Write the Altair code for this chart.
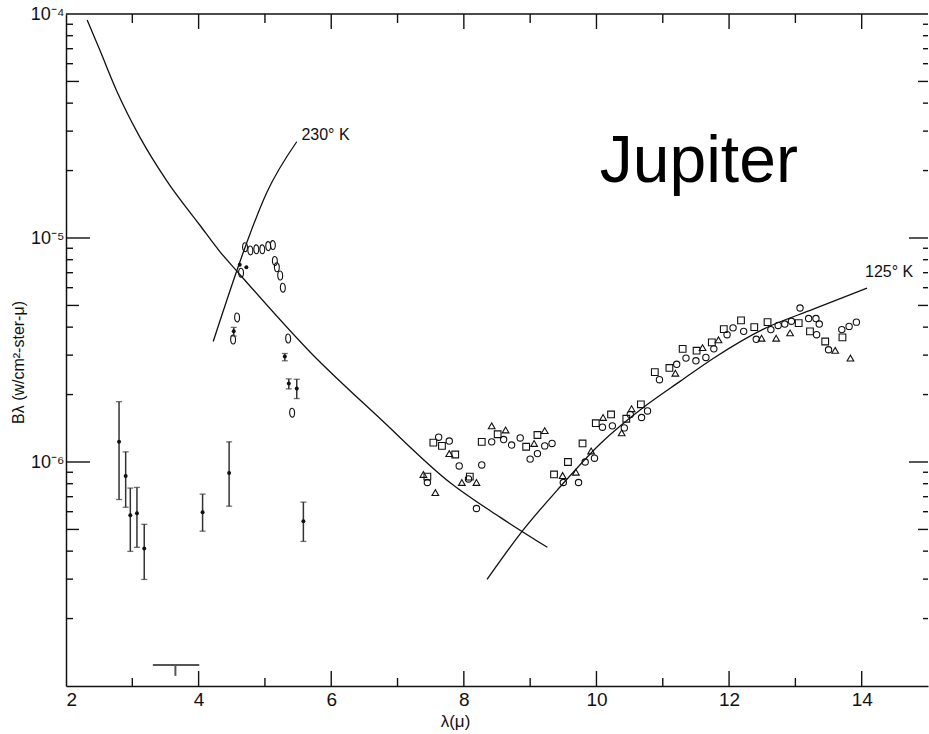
import altair as alt
import pandas as pd

# ---------------- curves ----------------
main_x = [2.32, 2.51, 2.77, 3.12, 3.52, 4.02, 4.32, 4.58, 5.68, 6.74, 7.79, 8.55, 9.26]
main_y = [9.4e-5, 6.9e-5, 4.5e-5, 2.8e-5, 1.8e-5, 1.14e-5, 8.7e-6, 7.1e-6, 3.1e-6, 1.56e-6, 8.1e-7, 5.66e-7, 4.16e-7]
k230_x = [4.22, 4.58, 4.73, 5.03, 5.48]
k230_y = [3.45e-6, 7.2e-6, 9.6e-6, 1.6e-5, 2.69e-5]
k125_x = [8.35, 8.89, 9.45, 10.05, 10.76, 11.26, 11.76, 12.51, 13.27, 14.08]
k125_y = [2.99e-7, 4.95e-7, 7.73e-7, 1.2e-6, 1.80e-6, 2.29e-6, 2.90e-6, 3.91e-6, 4.81e-6, 5.97e-6]

# ---------------- open markers ----------------
circ_x = [7.62, 7.78, 7.93, 8.27, 8.42, 8.60, 8.85, 8.72, 9.00, 9.11, 9.22, 9.33, 8.19, 7.45, 8.07,
          9.50, 9.73, 9.83, 9.97, 10.09, 10.24, 10.42, 10.68, 10.77, 10.51, 10.95, 11.21, 11.35,
          11.50, 11.65, 11.77, 11.97, 12.06, 12.22, 12.41, 12.63, 12.74, 12.84, 12.94, 13.07,
          13.20, 13.31, 13.36, 13.32, 13.50, 13.70, 13.81, 13.92]
circ_y = [1.29e-6, 1.24e-6, 9.6e-7, 9.7e-7, 1.23e-6, 1.26e-6, 1.28e-6, 1.19e-6, 1.03e-6, 1.09e-6,
          1.18e-6, 1.21e-6, 6.2e-7, 8.1e-7, 8.4e-7, 8.1e-7, 8.1e-7, 1.0e-6, 1.04e-6, 1.43e-6,
          1.45e-6, 1.42e-6, 1.58e-6, 1.69e-6, 1.63e-6, 2.33e-6, 2.73e-6, 2.91e-6, 2.83e-6,
          2.93e-6, 3.20e-6, 3.70e-6, 3.97e-6, 3.83e-6, 3.53e-6, 3.90e-6, 4.07e-6, 4.13e-6,
          4.25e-6, 4.87e-6, 4.37e-6, 4.37e-6, 4.13e-6, 3.70e-6, 3.17e-6, 3.90e-6, 4.03e-6, 4.21e-6]

sq_x = [7.54, 7.67, 7.87, 8.27, 8.51, 8.94, 9.11, 7.45, 8.09, 9.36, 9.57, 9.79, 9.99, 10.22,
        10.45, 10.67, 10.88, 11.10, 11.30, 11.51, 11.74, 11.92, 12.18, 12.38, 12.58, 13.05,
        13.22, 13.45, 13.71]
sq_y = [1.22e-6, 1.18e-6, 1.08e-6, 1.23e-6, 1.33e-6, 1.17e-6, 1.32e-6, 8.6e-7, 8.6e-7, 8.8e-7,
        1.0e-6, 1.21e-6, 1.49e-6, 1.63e-6, 1.56e-6, 1.81e-6, 2.52e-6, 2.63e-6, 3.20e-6, 3.14e-6,
        3.42e-6, 3.92e-6, 4.29e-6, 4.0e-6, 4.21e-6, 4.17e-6, 3.83e-6, 3.45e-6, 3.60e-6]

tri_x = [8.42, 8.63, 9.06, 9.22, 7.39, 7.57, 7.97, 8.19, 7.78, 9.49, 10.10, 9.92, 9.69, 10.53,
         10.38, 11.19, 11.60, 11.84, 12.49, 12.71, 12.92, 13.83, 13.60]
tri_y = [1.45e-6, 1.39e-6, 1.21e-6, 1.38e-6, 8.8e-7, 7.3e-7, 8.1e-7, 8.1e-7, 1.09e-6, 8.7e-7,
         1.58e-6, 1.12e-6, 9.0e-7, 1.73e-6, 1.35e-6, 2.49e-6, 3.24e-6, 3.51e-6, 3.57e-6,
         3.57e-6, 3.77e-6, 2.91e-6, 3.15e-6]

oval_x = [4.70, 4.78, 4.87, 4.96, 5.05, 5.12, 5.15, 5.18, 5.23, 5.27, 5.35, 5.41, 4.58, 4.52, 4.64]
oval_y = [9.1e-6, 8.8e-6, 8.9e-6, 8.9e-6, 9.2e-6, 9.3e-6, 7.9e-6, 7.4e-6, 6.8e-6, 6.0e-6,
          3.56e-6, 1.66e-6, 4.42e-6, 3.52e-6, 7.0e-6]

# ---------------- filled points with error bars ----------------
err_x = [2.80, 2.90, 2.97, 3.07, 3.18, 4.06, 4.46, 5.58, 4.53, 5.30, 5.36, 5.48]
err_y = [1.23e-6, 8.65e-7, 5.78e-7, 5.9e-7, 4.11e-7, 5.97e-7, 8.93e-7, 5.44e-7, 3.83e-6, 2.96e-6, 2.24e-6, 2.13e-6]
err_hi = [1.86e-6, 1.11e-6, 7.65e-7, 7.7e-7, 5.27e-7, 7.19e-7, 1.23e-6, 6.62e-7, 3.99e-6, 3.05e-6, 2.35e-6, 2.34e-6]
err_lo = [6.8e-7, 6.28e-7, 3.99e-7, 4.16e-7, 2.99e-7, 4.91e-7, 6.35e-7, 4.42e-7, 3.65e-6, 2.83e-6, 2.12e-6, 1.92e-6]
dot_x = [4.62, 4.72]
dot_y = [7.6e-6, 7.4e-6]

# resolution bar
res_x1, res_x2, res_xc = 3.31, 4.01, 3.65
res_y, res_y2 = 1.24e-7, 1.11e-7

# ---------------- ticks / labels ----------------
x_labels = [2, 4, 6, 8, 10, 12, 14]
x_major = [4, 6, 8, 10, 12, 14]
x_minor = [3, 5, 7, 9, 11, 13]
y_labels = [1e-4, 1e-5, 1e-6]
y_decade = [1e-5, 1e-6]
y_five = [5e-5, 5e-6, 5e-7]
y_minor = [m * d for d in (1e-5, 1e-6, 1e-7) for m in (2, 3, 4, 6, 7, 8, 9)]

W, H = 862, 672
FONT = "Liberation Sans"
INK = "#111111"

xs = alt.Scale(domain=[2, 15], nice=False, zero=False)
ys = alt.Scale(type="log", domain=[1e-7, 1e-4], nice=False)

XAXIS = alt.Axis(values=x_labels, ticks=False, grid=False, format="d",
                 title="λ(μ)", titleX=389, titleY=27, titleBaseline="top")
YAXIS = alt.Axis(values=y_labels, ticks=False, grid=False,
                 labelExpr="datum.value > 5e-5 ? '10⁻⁴' : datum.value > 5e-6 ? '10⁻⁵' : '10⁻⁶'",
                 title="Bλ (w/cm²-ster-μ)", titleAngle=270,
                 titleX=-48, titleY=348, titleAlign="center", titleBaseline="middle")


def X(f):
    return alt.X(f, scale=xs, axis=XAXIS)


def Y(f):
    return alt.Y(f, scale=ys, axis=YAXIS)


def curve(xv, yv):
    df = pd.DataFrame({"x": xv, "y": yv})
    return alt.Chart(df).mark_line(color=INK, strokeWidth=1.3, interpolate="monotone").encode(
        x=X("x:Q"), y=Y("y:Q"), order=alt.Order("x:Q"))


def pts(xv, yv, shape, size=45):
    df = pd.DataFrame({"x": xv, "y": yv})
    return alt.Chart(df).mark_point(shape=shape, filled=False, color=INK, size=size,
                                    strokeWidth=1.1, opacity=1).encode(x=X("x:Q"), y=Y("y:Q"))


layers = [
    curve(main_x, main_y),
    curve(k230_x, k230_y),
    curve(k125_x, k125_y),
    pts(circ_x, circ_y, "circle", 40),
    pts(sq_x, sq_y, "square", 45),
    pts(tri_x, tri_y, "triangle-up", 45),
    pts(oval_x, oval_y, "M -0.55,0 A 0.55,1 0 1,0 0.55,0 A 0.55,1 0 1,0 -0.55,0 Z", 80),
]

err_df = pd.DataFrame({"x": err_x, "y": err_y, "hi": err_hi, "lo": err_lo})
layers.append(alt.Chart(err_df).mark_rule(color="#333333", strokeWidth=1.5).encode(
    x=X("x:Q"), y=Y("lo:Q"), y2="hi:Q"))
for fld in ("lo", "hi"):
    layers.append(alt.Chart(err_df).mark_tick(orient="horizontal", size=6, thickness=1.3,
                                              color="#333333").encode(x=X("x:Q"), y=Y(f"{fld}:Q")))
layers.append(alt.Chart(err_df).mark_circle(color=INK, size=16, opacity=1).encode(
    x=X("x:Q"), y=Y("y:Q")))
layers.append(alt.Chart(pd.DataFrame({"x": dot_x, "y": dot_y})).mark_circle(
    color=INK, size=16, opacity=1).encode(x=X("x:Q"), y=Y("y:Q")))

# resolution bar
res_df = pd.DataFrame({"x": [res_x1], "x2": [res_x2], "y": [res_y], "xc": [res_xc], "y2": [res_y2]})
layers.append(alt.Chart(res_df).mark_rule(color="#555555", strokeWidth=2).encode(
    x=X("x:Q"), x2="x2:Q", y=Y("y:Q")))
layers.append(alt.Chart(res_df).mark_rule(color="#555555", strokeWidth=2).encode(
    x=X("xc:Q"), y=Y("y:Q"), y2="y2:Q"))


# inward ticks
def xticks(vals, y0, y1):
    return alt.Chart(pd.DataFrame({"v": vals})).mark_rule(color=INK, strokeWidth=1.4).encode(
        x=X("v:Q"), y=alt.value(y0), y2=alt.value(y1))


def yticks(vals, x0, x1):
    return alt.Chart(pd.DataFrame({"v": vals})).mark_rule(color=INK, strokeWidth=1.4).encode(
        y=Y("v:Q"), x=alt.value(x0), x2=alt.value(x1))


layers += [
    xticks(x_major, H, H - 15), xticks(x_minor, H, H - 8),
    xticks(x_major, 0, 15), xticks(x_minor, 0, 9),
    yticks(y_decade, 0, 24), yticks(y_five, 0, 13), yticks(y_minor, 0, 7),
    yticks(y_decade, W, W - 19), yticks(y_five, W, W - 10), yticks(y_minor, W, W - 5),
]
# top frame line
layers.append(alt.Chart(pd.DataFrame({"a": [0]})).mark_rule(color=INK, strokeWidth=1.5).encode(
    x=alt.value(0), x2=alt.value(W), y=alt.value(0)))

# annotations
ann_text = ["230° K", "125° K"]
ann_x = [5.55, 14.05]
ann_y = [2.87e-5, 7.05e-6]
ann_df = pd.DataFrame({"t": ann_text, "x": ann_x, "y": ann_y})
layers.append(alt.Chart(ann_df).mark_text(font=FONT, fontSize=16, color=INK, align="left",
                                           baseline="middle").encode(
    x=X("x:Q"), y=Y("y:Q"), text="t:N"))

title_df = pd.DataFrame({"t": ["Jupiter"], "x": [10.05], "y": [1.77e-5]})
layers.append(alt.Chart(title_df).mark_text(font=FONT, fontSize=66, color="#000000",
                                             align="left", baseline="alphabetic").encode(
    x=X("x:Q"), y=Y("y:Q"), text="t:N"))

chart = alt.layer(*layers).properties(
    width=W, height=H,
    autosize=alt.AutoSizeParams(type="none"),
    padding={"left": 66, "top": 14, "right": 1, "bottom": 48},
    background="white",
).configure_view(stroke=None).configure_axis(
    domainColor=INK, domainWidth=1.5, labelFont=FONT, labelColor=INK,
    titleFont=FONT, titleFontWeight="normal", titleColor=INK,
).configure_axisX(
    labelFontSize=19, labelPadding=4, titleFontSize=17,
).configure_axisY(
    labelFontSize=18, labelPadding=2, titleFontSize=16,
)

chart.save("out.html", embed_options={"renderer": "svg", "actions": False})
